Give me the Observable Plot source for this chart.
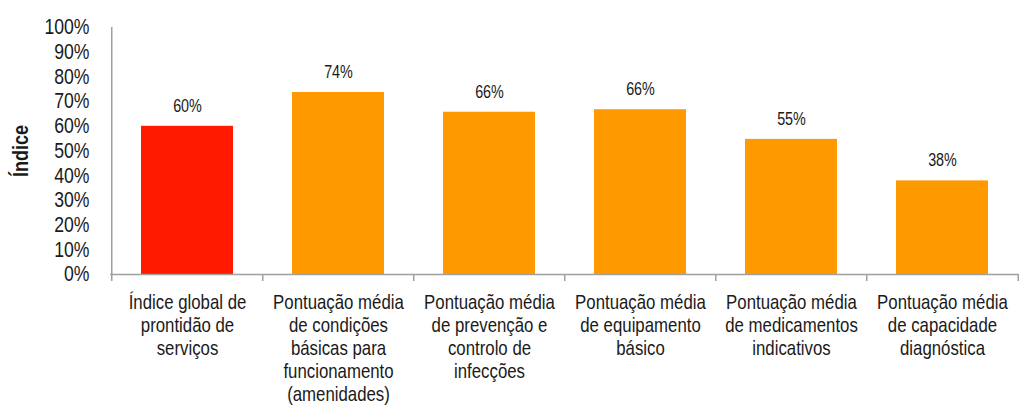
<!DOCTYPE html>
<html>
<head>
<meta charset="utf-8">
<script src="https://cdn.jsdelivr.net/npm/d3@7"></script>
<script src="https://cdn.jsdelivr.net/npm/@observablehq/plot@0.6"></script>
<style>
  html, body { margin: 0; padding: 0; background: #fff; }
  #chart svg { font-family: "Liberation Sans", Arial, sans-serif; }
</style>
</head>
<body>
<div id="chart"></div>
<script>
const categories = ["c1", "c2", "c3", "c4", "c5", "c6"];
const categoryLabels = [
  "Índice global de\nprontidão de\nserviços",
  "Pontuação média\nde condições\nbásicas para\nfuncionamento\n(amenidades)",
  "Pontuação média\nde prevenção e\ncontrolo de\ninfecções",
  "Pontuação média\nde equipamento\nbásico",
  "Pontuação média\nde medicamentos\nindicativos",
  "Pontuação média\nde capacidade\ndiagnóstica"
];
const values = [0.600, 0.737, 0.657, 0.667, 0.547, 0.379];
const valueLabels = ["60%", "74%", "66%", "66%", "55%", "38%"];
const barColors = ["#ff1a00", "#ff9900", "#ff9900", "#ff9900", "#ff9900", "#ff9900"];
const yTicks = [0, 0.1, 0.2, 0.3, 0.4, 0.5, 0.6, 0.7, 0.8, 0.9, 1.0];
const yLabel = "Índice";

const data = categories.map((c, i) => ({
  cat: c, value: values[i], label: valueLabels[i], catLabel: categoryLabels[i], color: barColors[i]
}));

const width = 1021, height = 406;
const marginLeft = 110, marginRight = 2, marginTop = 27, marginBottom = 132;
const step = (width - marginLeft - marginRight) / categories.length;
const axisColor = "#a0a0a0";
const textColor = "#1a1a1a";
const tickDrop = -0.028;

const chart = Plot.plot({
  width, height, marginLeft, marginRight, marginTop, marginBottom,
  style: { color: textColor, background: "#fff", overflow: "visible" },
  x: { domain: categories, paddingInner: 0.39, paddingOuter: 0.195, axis: null },
  y: { domain: [0, 1], axis: null },
  marks: [
    Plot.barY(data, { x: "cat", y: "value", fill: "color" }),
    Plot.ruleY([0], { stroke: axisColor, strokeWidth: 1.5 }),
    Plot.ruleX(categories, { x: d => d, dx: -step / 2, y1: tickDrop, y2: 0, stroke: axisColor, strokeWidth: 1.5 }),
    Plot.ruleX([categories[categories.length - 1]], { x: d => d, dx: step / 2, y1: tickDrop, y2: 0, stroke: axisColor, strokeWidth: 1.5 }),
    Plot.ruleX([categories[0]], { x: d => d, dx: -step / 2, y1: 0, y2: 1, stroke: axisColor, strokeWidth: 1.5 }),
    Plot.axisY(yTicks, { tickSize: 0, tickPadding: 21, tickFormat: d3.format(".0%"), fontSize: 21.5, fill: textColor, label: null }),
    Plot.text(data, { x: "cat", y: "value", text: "label", dy: -20, lineAnchor: "middle", fontSize: 17.5, fill: textColor }),
    Plot.text(data, { x: "cat", y: 0, text: "catLabel", lineAnchor: "top", dy: 18, lineHeight: 1.12, fontSize: 20.5, fill: textColor }),
    Plot.text([yLabel], { frameAnchor: "left", textAnchor: "middle", rotate: -90, dx: -90, fontSize: 22, fontWeight: "bold", fill: textColor })
  ]
});

// Emulate a narrow (condensed) sans face by compressing glyphs horizontally around each text anchor.
chart.querySelectorAll("text").forEach(t => {
  const xa = t.getAttribute("x");
  let shift = "";
  if (xa !== null && isFinite(+xa) && +xa !== 0) {
    shift = ` translate(${+xa},0)`;
    t.removeAttribute("x");
  }
  const tr = t.getAttribute("transform") || "";
  t.setAttribute("transform", `${tr}${shift} scale(0.82,1)`);
});

document.getElementById("chart").appendChild(chart);
</script>
</body>
</html>
